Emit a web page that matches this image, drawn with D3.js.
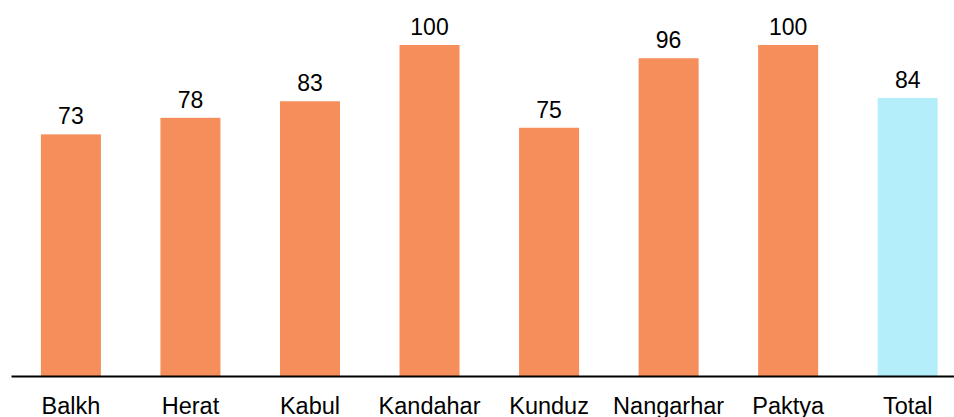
<!DOCTYPE html>
<html>
<head>
<meta charset="utf-8">
<script src="https://cdn.jsdelivr.net/npm/d3@7"></script>
<style>
  body { margin: 0; background: #fff; }
  svg { display: block; }
  text { font-family: "Liberation Sans", Arial, sans-serif; fill: #000; }
</style>
</head>
<body>
<div id="chart"></div>
<script>
var provinces = ["Balkh", "Herat", "Kabul", "Kandahar", "Kunduz", "Nangarhar", "Paktya", "Total"];
var values = [73, 78, 83, 100, 75, 96, 100, 84];

var svgWidth = 954;
var svgHeight = 417;
var baseY = 376;

var svg = d3.select("#chart")
  .append("svg")
  .attr("width", svgWidth)
  .attr("height", svgHeight);

// x scale: bands of ~60px, step ~119.6px
var xScale = d3.scaleBand()
  .domain(provinces)
  .range([11, 967.6])
  .paddingInner(0.498)
  .paddingOuter(0.25);

var yScale = d3.scaleLinear()
  .domain([0, 100])
  .range([baseY, 45]);

var data = provinces.map(function(p, i) { return { name: p, value: values[i] }; });

// bars
svg.selectAll("rect.bar")
  .data(data)
  .enter()
  .append("rect")
  .attr("class", "bar")
  .attr("x", d => xScale(d.name))
  .attr("y", d => yScale(d.value))
  .attr("width", xScale.bandwidth())
  .attr("height", d => baseY - yScale(d.value))
  .attr("fill", d => d.name === "Total" ? "#b5eefb" : "#f58e5a");

// value labels
svg.selectAll("text.val")
  .data(data)
  .enter()
  .append("text")
  .attr("class", "val")
  .attr("x", d => xScale(d.name) + xScale.bandwidth() / 2)
  .attr("y", d => yScale(d.value) - 10)
  .attr("text-anchor", "middle")
  .attr("font-size", "23px")
  .text(d => d.value);

// bottom axis
var xAxis = d3.axisBottom(xScale).tickSize(0).tickPadding(0).tickSizeOuter(0);
var axisG = svg.append("g")
  .attr("transform", `translate(0, ${baseY})`)
  .call(xAxis);
axisG.select(".domain").attr("stroke", "#000").attr("stroke-width", 2);
axisG.selectAll(".tick text")
  .attr("dy", null)
  .attr("y", 38)
  .attr("font-size", "23.5px")
  .attr("font-family", "Liberation Sans, Arial, sans-serif")
  .attr("fill", "#000");
</script>
</body>
</html>
